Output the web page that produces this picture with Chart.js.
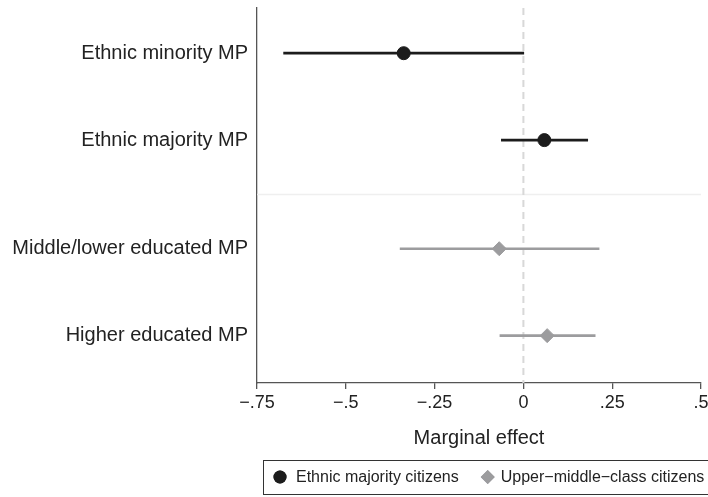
<!DOCTYPE html>
<html>
<head>
<meta charset="utf-8">
<script src="https://cdn.jsdelivr.net/npm/chart.js@4/dist/chart.umd.min.js"></script>
<style>
  html, body { margin: 0; padding: 0; background: #fff; overflow: hidden; }
  #wrap { width: 760px; height: 497px; }
</style>
</head>
<body>
<div id="wrap"><canvas id="chart"></canvas></div>
<script>
// Rows of the coefficient plot, grouped by comparison
const ethnicRows = ['Ethnic minority MP', 'Ethnic majority MP'];
const classRows = ['Middle/lower educated MP', 'Higher educated MP'];

// Marginal effects (point estimate and 95% interval) for ethnic majority citizens
const ethnicEstimate = [-0.337, 0.059];
const ethnicLower = [-0.676, -0.063];
const ethnicUpper = [0.002, 0.182];

// Marginal effects for upper-middle-class citizens
const classEstimate = [-0.068, 0.067];
const classLower = [-0.348, -0.067];
const classUpper = [0.214, 0.203];

// Axis ticks
const xTicks = [-0.75, -0.5, -0.25, 0, 0.25, 0.5];

const seriesNames = ['Ethnic majority citizens', 'Upper\u2212middle\u2212class citizens'];
const dark = '#1c1c1c';
const grey = '#9c9c9e';
const FONT = '"Liberation Sans", Arial, Helvetica, sans-serif';

// Vertical positions: one unit per row, with extra space between the two groups
const GROUP_GAP = 0.25;
const ethnicPos = ethnicRows.map((_, i) => i + 1);
const classPos = classRows.map((_, i) => ethnicRows.length + 1 + GROUP_GAP + i);
const allLabels = ethnicRows.concat(classRows);
const allPos = ethnicPos.concat(classPos);
const separatorPos = (ethnicPos[ethnicPos.length - 1] + classPos[0]) / 2;
const yMin = 0.48, yMax = classPos[classPos.length - 1] + 0.545;

function ciDatasets(lower, upper, pos, color, width) {
  return lower.map((lo, i) => ({
    type: 'line',
    data: [{ x: lo, y: pos[i] }, { x: upper[i], y: pos[i] }],
    borderColor: color,
    borderWidth: width,
    pointRadius: 0,
    order: 5,
    inLegend: false
  }));
}

const datasets = [
  {
    type: 'scatter',
    label: seriesNames[0],
    data: ethnicEstimate.map((v, i) => ({ x: v, y: ethnicPos[i] })),
    backgroundColor: dark,
    borderColor: dark,
    pointStyle: 'circle',
    pointRadius: 6.5,
    order: 1,
    inLegend: true
  },
  {
    type: 'scatter',
    label: seriesNames[1],
    data: classEstimate.map((v, i) => ({ x: v, y: classPos[i] })),
    backgroundColor: grey,
    borderColor: grey,
    pointStyle: 'rectRot',
    pointRadius: 7,
    order: 1,
    inLegend: true
  },
  ...ciDatasets(ethnicLower, ethnicUpper, ethnicPos, dark, 2.8),
  ...ciDatasets(classLower, classUpper, classPos, grey, 2.6),
  {
    // reference line at zero
    type: 'line',
    data: [{ x: 0, y: yMin }, { x: 0, y: yMax }],
    borderColor: '#d8d8d8',
    borderWidth: 2,
    borderDash: [7, 5],
    pointRadius: 0,
    order: 10,
    inLegend: false
  },
  {
    // divider between the two groups
    type: 'line',
    data: [{ x: xTicks[0], y: separatorPos }, { x: xTicks[xTicks.length - 1], y: separatorPos }],
    borderColor: '#efefef',
    borderWidth: 1.5,
    pointRadius: 0,
    order: 10,
    inLegend: false
  }
];

function fmtTick(v) {
  if (Math.abs(v) < 1e-9) return '0';
  const s = Math.abs(v).toString().replace(/^0/, '');
  return (v < 0 ? '\u2212' : '') + s;
}

// Legend drawn inside a framed box below the axis
const framedLegend = {
  id: 'framedLegend',
  afterDraw(chart) {
    const ctx = chart.ctx;
    const left = chart.chartArea.left + 6;
    const top = 460, h = 34;
    const cy = top + h / 2;
    ctx.save();
    ctx.strokeStyle = '#333';
    ctx.lineWidth = 1;
    ctx.strokeRect(left + 0.5, top + 0.5, 500, h);
    ctx.font = '16px ' + FONT;
    ctx.textBaseline = 'middle';
    let x = left + 17;
    chart.data.datasets.filter(d => d.inLegend).forEach((d, i) => {
      const r = d.pointRadius;
      ctx.fillStyle = d.backgroundColor;
      Chart.helpers.drawPoint(ctx, { pointStyle: d.pointStyle, radius: r, borderWidth: 0 }, x, cy);
      ctx.fill();
      const tx = x + (i === 0 ? 16 : 13);
      ctx.fillStyle = '#222';
      ctx.fillText(d.label, tx, cy + 1);
      x = tx + ctx.measureText(d.label).width + 29;
    });
    ctx.restore();
  }
};

new Chart(document.getElementById('chart'), {
  data: { datasets },
  options: {
    responsive: true,
    maintainAspectRatio: false,
    animation: false,
    layout: { padding: { top: 7, right: 59, bottom: 42, left: 0 } },
    plugins: { legend: { display: false }, tooltip: { enabled: false } },
    scales: {
      x: {
        type: 'linear',
        min: xTicks[0],
        max: xTicks[xTicks.length - 1],
        afterBuildTicks: s => { s.ticks = xTicks.map(v => ({ value: v })); },
        afterFit: s => { s.height = 72; },
        ticks: {
          callback: v => fmtTick(v),
          font: { family: FONT, size: 18 },
          color: '#222',
          padding: 3,
          maxRotation: 0
        },
        grid: { drawOnChartArea: false, drawTicks: true, tickLength: 6, color: '#555', lineWidth: 1.3 },
        border: { display: true, color: '#555', width: 1.3 },
        title: {
          display: true,
          text: 'Marginal effect',
          font: { family: FONT, size: 20 },
          color: '#222',
          padding: { top: 4, bottom: 5 }
        }
      },
      y: {
        type: 'linear',
        reverse: true,
        min: yMin,
        max: yMax,
        afterBuildTicks: s => { s.ticks = allPos.map(v => ({ value: v })); },
        afterFit: s => { s.width = 257; s.paddingTop = 0; s.paddingBottom = 0; },
        ticks: {
          callback: v => {
            const i = allPos.findIndex(p => Math.abs(p - v) < 1e-6);
            return i >= 0 ? allLabels[i] : '';
          },
          font: { family: FONT, size: 20 },
          color: '#222',
          padding: 9
        },
        grid: { display: false, drawTicks: false },
        border: { display: true, color: '#555', width: 1.3 }
      }
    }
  },
  plugins: [framedLegend]
});
</script>
</body>
</html>
